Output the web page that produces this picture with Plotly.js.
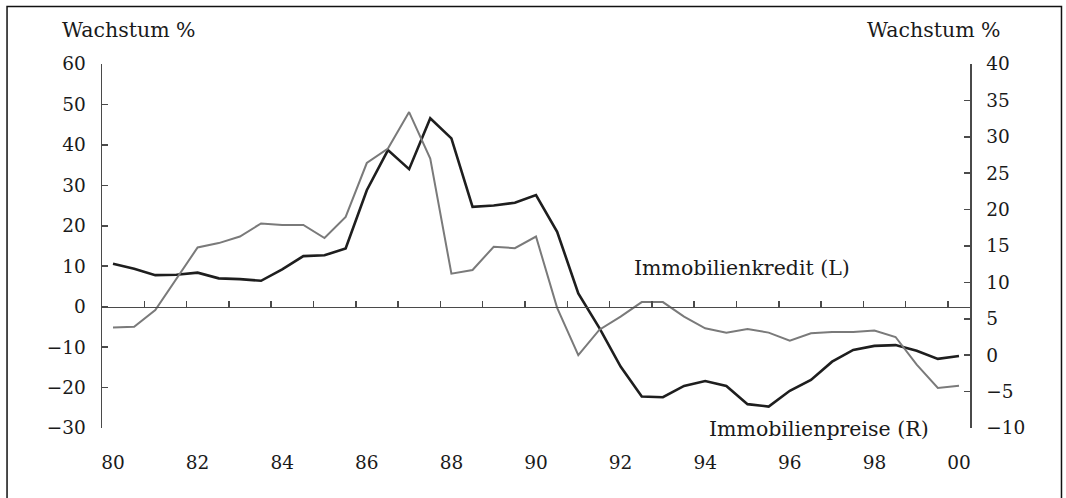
<!DOCTYPE html>
<html>
<head>
<meta charset="utf-8">
<script src="https://cdn.plot.ly/plotly-3.0.1.min.js"></script>
<style>html,body{margin:0;padding:0;background:#fff;}#chart{width:1066px;height:498px;}</style>
</head>
<body>
<div id="chart"></div>
<script>
// Half-yearly observation points (years)
const periods = [1980,1980.5,1981,1981.5,1982,1982.5,1983,1983.5,1984,1984.5,1985,1985.5,1986,1986.5,1987,1987.5,1988,1988.5,1989,1989.5,1990,1990.5,1991,1991.5,1992,1992.5,1993,1993.5,1994,1994.5,1995,1995.5,1996,1996.5,1997,1997.5,1998,1998.5,1999,1999.5,2000];

// Immobilienkredit (L), Wachstum %
const immobilienkredit = [10.6,9.4,7.8,7.9,8.4,7.0,6.8,6.4,9.2,12.5,12.7,14.4,28.8,38.7,34.0,46.6,41.6,24.7,25.0,25.7,27.6,18.5,3.3,-5.3,-14.8,-22.2,-22.4,-19.6,-18.4,-19.6,-24.1,-24.7,-20.8,-18.1,-13.6,-10.7,-9.7,-9.5,-10.9,-12.9,-12.2];

// Immobilienpreise (R), Wachstum %
const immobilienpreise = [3.8,3.9,6.2,10.5,14.8,15.4,16.3,18.1,17.9,17.9,16.1,19.0,26.4,28.4,33.4,27.0,11.2,11.7,14.9,14.7,16.3,6.5,0.0,3.5,5.3,7.3,7.3,5.3,3.7,3.1,3.6,3.1,2.0,3.0,3.2,3.2,3.4,2.5,-1.3,-4.5,-4.2];

const xTickVals = [1980,1982,1984,1986,1988,1990,1992,1994,1996,1998,2000];
const xTickText = ['80','82','84','86','88','90','92','94','96','98','00'];

const serif = 'DejaVu Serif, Liberation Serif, serif';
const axisCol = '#4a4a4a';
const textCol = '#1a1a1a';

const traces = [
  {x: periods, y: immobilienpreise, xaxis: 'x', yaxis: 'y2', mode: 'lines',
   line: {color: '#7a7a7a', width: 2}, hoverinfo: 'skip'},
  {x: periods, y: immobilienkredit, xaxis: 'x', yaxis: 'y', mode: 'lines',
   line: {color: '#1e1e1e', width: 2.6}, hoverinfo: 'skip'},
  {x: [periods[0]], y: [0], xaxis: 'x2', yaxis: 'y', mode: 'markers',
   marker: {opacity: 0}, hoverinfo: 'skip'}
];

const xr = [1979.74, 2000.26];
const tickFont = {family: serif, size: 18.5, color: textCol};

const layout = {
  width: 1066, height: 498,
  margin: {l: 102, r: 96, t: 64, b: 70},
  paper_bgcolor: '#fff', plot_bgcolor: '#fff',
  showlegend: false,
  font: {family: serif, size: 18, color: textCol},
  xaxis: {
    range: xr, showline: false, ticks: '', showgrid: false, zeroline: false,
    tickvals: xTickVals, ticktext: xTickText, ticklabelstandoff: 21,
    tickfont: tickFont
  },
  xaxis2: {
    range: xr, overlaying: 'x', anchor: 'free', position: 1/3, side: 'bottom',
    showline: true, linecolor: axisCol, linewidth: 1.5,
    ticks: 'inside', ticklen: 6, tickwidth: 1.5, tickcolor: axisCol,
    tick0: 1979.74, dtick: 1, showticklabels: false, showgrid: false, zeroline: false
  },
  yaxis: {
    range: [-30, 60], dtick: 10, showline: true, linecolor: axisCol, linewidth: 1.5,
    ticks: 'inside', ticklen: 6, tickwidth: 1.5, tickcolor: axisCol,
    showgrid: false, zeroline: false, ticklabelstandoff: 11,
    tickfont: tickFont
  },
  yaxis2: {
    range: [-10, 40], dtick: 5, overlaying: 'y', side: 'right',
    showline: true, linecolor: axisCol, linewidth: 1.5,
    ticks: 'inside', ticklen: 6, tickwidth: 1.5, tickcolor: axisCol,
    showgrid: false, zeroline: false, ticklabelstandoff: 11,
    tickfont: tickFont
  },
  annotations: [
    {text: 'Wachstum %', xref: 'paper', yref: 'paper', x: -0.0484, y: 1.0934,
     xanchor: 'left', yanchor: 'middle', showarrow: false, font: {family: serif, size: 20.5, color: textCol}},
    {text: 'Wachstum %', xref: 'paper', yref: 'paper', x: 1.038, y: 1.0934,
     xanchor: 'right', yanchor: 'middle', showarrow: false, font: {family: serif, size: 20.5, color: textCol}},
    {text: 'Immobilienkredit (L)', xref: 'paper', yref: 'paper', x: 0.6106, y: 0.4396,
     xanchor: 'left', yanchor: 'middle', showarrow: false, font: {family: serif, size: 20.5, color: textCol}},
    {text: 'Immobilienpreise (R)', xref: 'paper', yref: 'paper', x: 0.697, y: -0.0027,
     xanchor: 'left', yanchor: 'middle', showarrow: false, font: {family: serif, size: 20.5, color: textCol}}
  ],
  shapes: [
    {type: 'rect', xref: 'paper', yref: 'paper', x0: -0.1094, x1: 1.1054, y0: -0.25, y1: 1.158,
     line: {color: '#111', width: 1.5}, fillcolor: 'rgba(0,0,0,0)', layer: 'below'}
  ]
};

Plotly.newPlot('chart', traces, layout, {displayModeBar: false, staticPlot: true});
</script>
</body>
</html>
